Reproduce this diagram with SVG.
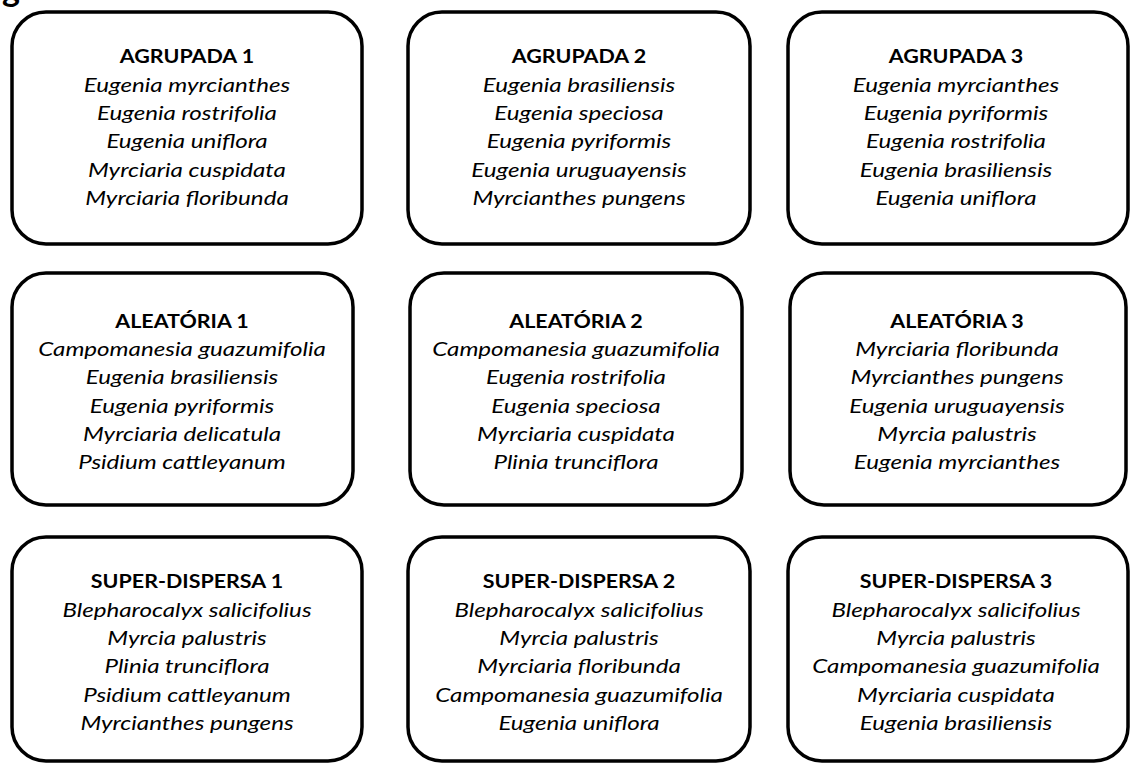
<svg xmlns="http://www.w3.org/2000/svg" width="1130" height="763" viewBox="0 0 1130 763">
<style>
.box{fill:#fff;stroke:#000;stroke-width:3.5}
.h{font-family:Lato,"Liberation Sans",sans-serif;font-weight:bold;font-size:19px;text-anchor:middle;fill:#000}
.s{font-family:Lato,"Liberation Sans",sans-serif;font-style:italic;font-size:19px;text-anchor:middle;fill:#000}
.t{font-family:Lato,"Liberation Sans",sans-serif;font-weight:bold;font-size:34px;fill:#000}
</style>
<rect width="1130" height="763" fill="#fff"/>
<text class="t" x="2" y="1">g</text>
<g id="agrupada1">
<rect class="box" x="12" y="12" width="350" height="232" rx="34"/>
<g transform="translate(187 0) scale(1.13 1)"><text class="h" x="0" y="63">AGRUPADA 1</text></g>
<g transform="translate(187 0) scale(1.27 1)">
<text class="s" x="0" y="92">Eugenia myrcianthes</text>
<text class="s" x="0" y="120">Eugenia rostrifolia</text>
<text class="s" x="0" y="148">Eugenia uniflora</text>
<text class="s" x="0" y="177">Myrciaria cuspidata</text>
<text class="s" x="0" y="205">Myrciaria floribunda</text>
</g>
</g>
<g id="agrupada2">
<rect class="box" x="408" y="12" width="342" height="232" rx="34"/>
<g transform="translate(579 0) scale(1.13 1)"><text class="h" x="0" y="63">AGRUPADA 2</text></g>
<g transform="translate(579 0) scale(1.27 1)">
<text class="s" x="0" y="92">Eugenia brasiliensis</text>
<text class="s" x="0" y="120">Eugenia speciosa</text>
<text class="s" x="0" y="148">Eugenia pyriformis</text>
<text class="s" x="0" y="177">Eugenia uruguayensis</text>
<text class="s" x="0" y="205">Myrcianthes pungens</text>
</g>
</g>
<g id="agrupada3">
<rect class="box" x="788" y="12" width="340" height="232" rx="34"/>
<g transform="translate(956 0) scale(1.13 1)"><text class="h" x="0" y="63">AGRUPADA 3</text></g>
<g transform="translate(956 0) scale(1.27 1)">
<text class="s" x="0" y="92">Eugenia myrcianthes</text>
<text class="s" x="0" y="120">Eugenia pyriformis</text>
<text class="s" x="0" y="148">Eugenia rostrifolia</text>
<text class="s" x="0" y="177">Eugenia brasiliensis</text>
<text class="s" x="0" y="205">Eugenia uniflora</text>
</g>
</g>
<g id="aleatoria1">
<rect class="box" x="12" y="273" width="341" height="232" rx="34"/>
<g transform="translate(182 0) scale(1.13 1)"><text class="h" x="0" y="328">ALEATÓRIA 1</text></g>
<g transform="translate(182 0) scale(1.27 1)">
<text class="s" x="0" y="356">Campomanesia guazumifolia</text>
<text class="s" x="0" y="384">Eugenia brasiliensis</text>
<text class="s" x="0" y="413">Eugenia pyriformis</text>
<text class="s" x="0" y="441">Myrciaria delicatula</text>
<text class="s" x="0" y="469">Psidium cattleyanum</text>
</g>
</g>
<g id="aleatoria2">
<rect class="box" x="410" y="273" width="332" height="232" rx="34"/>
<g transform="translate(576 0) scale(1.13 1)"><text class="h" x="0" y="328">ALEATÓRIA 2</text></g>
<g transform="translate(576 0) scale(1.27 1)">
<text class="s" x="0" y="356">Campomanesia guazumifolia</text>
<text class="s" x="0" y="384">Eugenia rostrifolia</text>
<text class="s" x="0" y="413">Eugenia speciosa</text>
<text class="s" x="0" y="441">Myrciaria cuspidata</text>
<text class="s" x="0" y="469">Plinia trunciflora</text>
</g>
</g>
<g id="aleatoria3">
<rect class="box" x="790" y="273" width="336" height="232" rx="34"/>
<g transform="translate(957 0) scale(1.13 1)"><text class="h" x="0" y="328">ALEATÓRIA 3</text></g>
<g transform="translate(957 0) scale(1.27 1)">
<text class="s" x="0" y="356">Myrciaria floribunda</text>
<text class="s" x="0" y="384">Myrcianthes pungens</text>
<text class="s" x="0" y="413">Eugenia uruguayensis</text>
<text class="s" x="0" y="441">Myrcia palustris</text>
<text class="s" x="0" y="469">Eugenia myrcianthes</text>
</g>
</g>
<g id="superdispersa1">
<rect class="box" x="12" y="537" width="350" height="224" rx="34"/>
<g transform="translate(187 0) scale(1.13 1)"><text class="h" x="0" y="588">SUPER-DISPERSA 1</text></g>
<g transform="translate(187 0) scale(1.27 1)">
<text class="s" x="0" y="617">Blepharocalyx salicifolius</text>
<text class="s" x="0" y="645">Myrcia palustris</text>
<text class="s" x="0" y="673">Plinia trunciflora</text>
<text class="s" x="0" y="702">Psidium cattleyanum</text>
<text class="s" x="0" y="730">Myrcianthes pungens</text>
</g>
</g>
<g id="superdispersa2">
<rect class="box" x="408" y="537" width="342" height="224" rx="34"/>
<g transform="translate(579 0) scale(1.13 1)"><text class="h" x="0" y="588">SUPER-DISPERSA 2</text></g>
<g transform="translate(579 0) scale(1.27 1)">
<text class="s" x="0" y="617">Blepharocalyx salicifolius</text>
<text class="s" x="0" y="645">Myrcia palustris</text>
<text class="s" x="0" y="673">Myrciaria floribunda</text>
<text class="s" x="0" y="702">Campomanesia guazumifolia</text>
<text class="s" x="0" y="730">Eugenia uniflora</text>
</g>
</g>
<g id="superdispersa3">
<rect class="box" x="788" y="537" width="340" height="224" rx="34"/>
<g transform="translate(956 0) scale(1.13 1)"><text class="h" x="0" y="588">SUPER-DISPERSA 3</text></g>
<g transform="translate(956 0) scale(1.27 1)">
<text class="s" x="0" y="617">Blepharocalyx salicifolius</text>
<text class="s" x="0" y="645">Myrcia palustris</text>
<text class="s" x="0" y="673">Campomanesia guazumifolia</text>
<text class="s" x="0" y="702">Myrciaria cuspidata</text>
<text class="s" x="0" y="730">Eugenia brasiliensis</text>
</g>
</g>
<g id="connectors"/>
</svg>
